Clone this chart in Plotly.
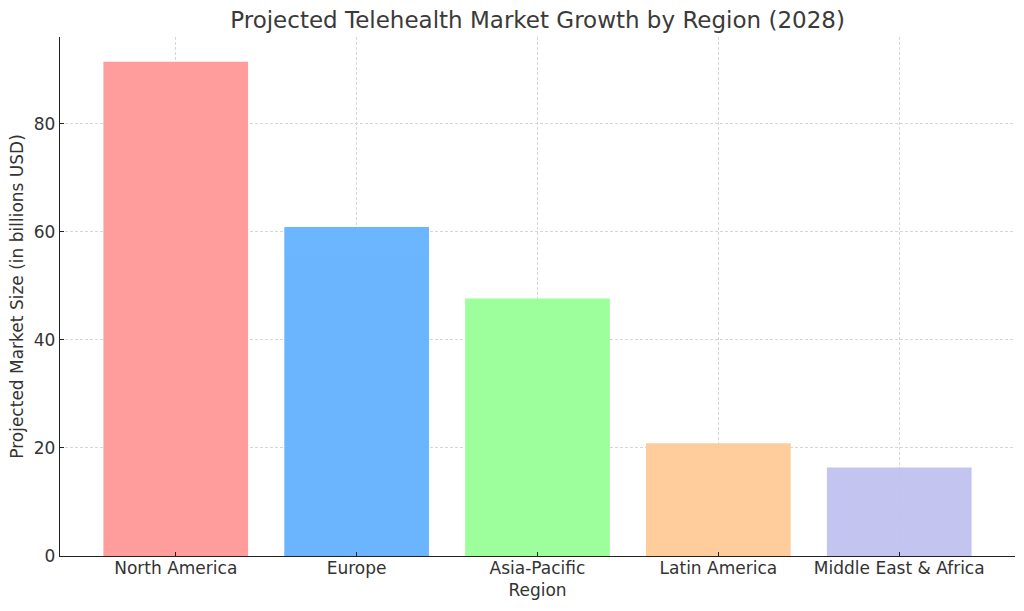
import plotly.graph_objects as go

regions = ["North America", "Europe", "Asia-Pacific", "Latin America", "Middle East & Africa"]
market_size = [91.5, 60.9, 47.7, 20.9, 16.4]
colors = ["#ff9999", "#66b3ff", "#99ff99", "#ffcc99", "#c2c2f0"]
y_ticks = [0, 20, 40, 60, 80]

FONT = "DejaVu Sans"
TXT = "#333333"
AX = "#222222"

fig = go.Figure(
    go.Bar(
        x=regions,
        y=market_size,
        marker=dict(color=colors, line=dict(width=0)),
        opacity=0.96,
        width=0.8,
    )
)

fig.update_layout(
    width=1024,
    height=611,
    paper_bgcolor="white",
    plot_bgcolor="white",
    margin=dict(l=60, r=9, t=37, b=55),
    showlegend=False,
    title=dict(
        text="Projected Telehealth Market Growth by Region (2028)",
        x=0.525,
        xanchor="center",
        y=0.967,
        yanchor="middle",
        font=dict(family=FONT, size=23, color="#3a3a3a"),
    ),
    font=dict(family=FONT, color=TXT),
)

axis_common = dict(
    showline=True,
    linecolor=AX,
    linewidth=1.3,
    ticks="inside",
    ticklen=4,
    tickwidth=1,
    tickcolor=AX,
    showgrid=True,
    gridcolor="#d6d6d6",
    griddash="3px,2px",
    gridwidth=0.7,
    tickfont=dict(family=FONT, size=17, color=TXT),
    zeroline=False,
    automargin=False,
)

fig.update_xaxes(
    range=[-0.64, 4.64],
    ticklabelstandoff=-4,
    title=dict(text="Region", font=dict(family=FONT, size=17, color=TXT), standoff=7),
    **axis_common,
)

fig.update_yaxes(
    range=[0, 96.1],
    tickvals=y_ticks,
    title=dict(text="Projected Market Size (in billions USD)", font=dict(family=FONT, size=17, color=TXT), standoff=5),
    **axis_common,
)

fig.write_html(
    "out.html",
    config={"displayModeBar": False},
    post_script="document.body.style.margin='0';",
)
